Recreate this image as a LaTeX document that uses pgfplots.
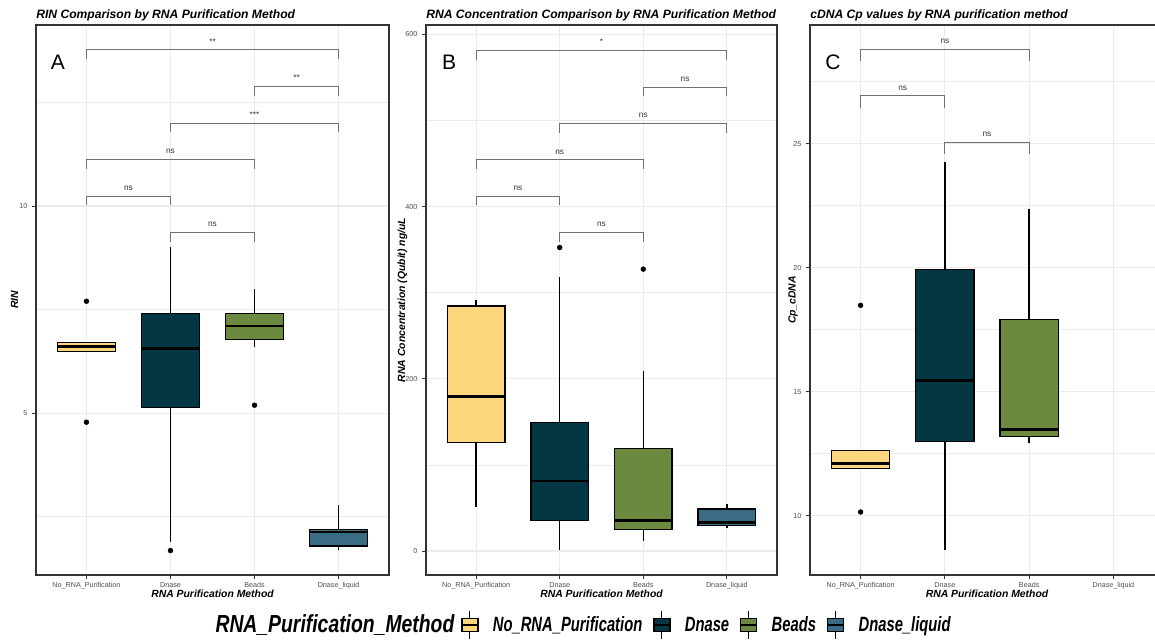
\documentclass[border=0pt]{standalone}
\usepackage{fontspec}
\setmainfont{Liberation Sans}
\usepackage{graphicx}
\usepackage{pgfplots}
\pgfplotsset{compat=1.18}
\usepgfplotslibrary{statistics}

\definecolor{cNo}{HTML}{FBD67D}
\definecolor{cDn}{HTML}{023743}
\definecolor{cBe}{HTML}{6B8A3F}
\definecolor{cDl}{HTML}{3A6D85}
\definecolor{grey20}{HTML}{333333}
\definecolor{grey30}{HTML}{4D4D4D}
\definecolor{grey92}{HTML}{EBEBEB}
\definecolor{sigcol}{HTML}{707070}

\newcommand\LegTitle[1]{\fontsize{18.5}{20}\selectfont\bfseries\itshape\scalebox{0.785}[1]{#1}\hspace*{-3pt}}
\newcommand\LegItem[1]{\fontsize{15.5}{18}\selectfont\bfseries\itshape\scalebox{0.715}[1]{#1}}

\tikzset{
  siglab/.style={anchor=base, yshift=4.3pt, inner sep=0pt,
    font=\fontsize{6.2}{7}\selectfont, text=grey20},
  letter/.style={anchor=center, inner sep=0pt, font=\fontsize{15.75}{18}\selectfont},
}

\pgfplotsset{
  panel/.style={
    scale only axis, height=412.5pt,
    xmin=-0.6, xmax=3.6,
    xtick={0,1,2,3},
    xticklabels={No\_RNA\_Purification,Dnase,Beads,Dnase\_liquid},
    xtick pos=left, ytick pos=left, tick align=outside,
    major tick length=3pt, minor tick length=0pt,
    tick style={draw=grey20, line width=0.6pt},
    axis line style={draw=grey20, line width=0.8pt},
    xmajorgrids, ymajorgrids, yminorgrids,
    major grid style={draw=grey92, line width=0.8pt},
    minor grid style={draw=grey92, line width=0.4pt},
    ticklabel style={font=\fontsize{5.4}{6}\selectfont, text=grey30},
    xticklabel style={yshift=1pt},
    /pgf/number format/assume math mode=true,
    xlabel={RNA Purification Method},
    xlabel style={at={(axis description cs:0.5,-0.0333)}, anchor=center,
      inner sep=0pt, font=\fontsize{7.8}{9}\selectfont\bfseries\itshape},
    ylabel style={anchor=center, inner sep=0pt,
      font=\fontsize{7.8}{9}\selectfont\bfseries\itshape},
    title style={at={(axis description cs:0,1)}, anchor=base west,
      yshift=-1pt, inner sep=0pt,
      font=\fontsize{9.1}{11}\selectfont\bfseries\itshape},
    clip=false,
    boxplot/draw direction=y,
    boxplot/box extend=0.69,
    boxplot/whisker extend=0,
    boxplot/every median/.style={line width=2.1pt},
    boxplot/every whisker/.style={line width=1pt},
  },
  bx/.style={draw=black, line width=1pt, fill=#1, solid, forget plot,
    mark=*, mark size=1.8pt, mark options={draw=black, fill=black, line width=0.4pt}},
  sig/.style={draw=sigcol, line width=0.7pt, mark=none, forget plot},
  boxkey/.style={legend image code/.code={
      \draw[black, line width=0.9pt] (6pt,-10.5pt) -- (6pt,10.5pt);
      \draw[black, line width=1.2pt, fill=#1] (0pt,-5pt) rectangle (12pt,5pt);
      \draw[black, line width=1.6pt] (0pt,0pt) -- (12pt,0pt);
  }},
}

\begin{document}
\begin{tikzpicture}

% ---------------- A: RIN ----------------
\begin{axis}[panel, width=264.75pt, at={(27pt,461.25pt)}, anchor=north west,
  ymin=1.09, ymax=14.37, ytick={5,10}, minor ytick={2.5,7.5,12.5},
  ylabel={RIN}, ylabel style={at={(axis description cs:-0.061,0.5)}},
  title={RIN Comparison by RNA Purification Method}]
\addplot[bx=cNo, boxplot prepared={draw position=0, lower whisker=6.48,
  lower quartile=6.48, median=6.60, upper quartile=6.70, upper whisker=6.70}]
  coordinates {(0,7.70) (0,4.78)};
\addplot[bx=cDn, boxplot prepared={draw position=1, lower whisker=1.89,
  lower quartile=5.14, median=6.55, upper quartile=7.41, upper whisker=9.00}]
  coordinates {(1,1.68)};
\addplot[bx=cBe, boxplot prepared={draw position=2, lower whisker=6.59,
  lower quartile=6.78, median=7.10, upper quartile=7.41, upper whisker=8.00}]
  coordinates {(2,5.19)};
\addplot[bx=cDl, boxplot prepared={draw position=3, lower whisker=1.69,
  lower quartile=1.79, median=2.13, upper quartile=2.19, upper whisker=2.78}]
  coordinates {};
% pairwise comparisons
\addplot[sig] coordinates {(0,13.55) (0,13.77) (3,13.77) (3,13.55)};
\addplot[sig] coordinates {(2,12.66) (2,12.88) (3,12.88) (3,12.66)};
\addplot[sig] coordinates {(1,11.78) (1,12.00) (3,12.00) (3,11.78)};
\addplot[sig] coordinates {(0,10.90) (0,11.12) (2,11.12) (2,10.90)};
\addplot[sig] coordinates {(0,10.02) (0,10.24) (1,10.24) (1,10.02)};
\addplot[sig] coordinates {(1,9.14) (1,9.36) (2,9.36) (2,9.14)};
\node[siglab] at (axis cs:1.5,13.77) {**};
\node[siglab] at (axis cs:2.5,12.88) {**};
\node[siglab] at (axis cs:2.0,12.00) {***};
\node[siglab] at (axis cs:1.0,11.12) {ns};
\node[siglab] at (axis cs:0.5,10.24) {ns};
\node[siglab] at (axis cs:1.5,9.36) {ns};
\node[letter] at (rel axis cs:0.062,0.933) {A};
\end{axis}

% ---------------- B: RNA concentration ----------------
\begin{axis}[panel, width=263.25pt, at={(319.5pt,461.25pt)}, anchor=north west,
  ymin=-27.9, ymax=610.8, ytick={0,200,400,600}, minor ytick={100,300,500},
  ylabel={RNA Concentration (Qubit) ng/uL},
  ylabel style={at={(axis description cs:-0.067,0.5)}},
  title={RNA Concentration Comparison by RNA Purification Method},
  legend columns=-1, legend cell align=left,
  legend style={draw=none, fill=none, inner sep=0pt, outer sep=0pt,
    at={(axis description cs:-0.6395,-0.0909)}, anchor=west,
    nodes={inner sep=0pt},
    /tikz/every odd column/.append style={column sep=10.5pt},
    /tikz/every even column/.append style={column sep=7.8pt}}]
\addplot[bx=cNo, boxplot prepared={draw position=0, lower whisker=51.4,
  lower quartile=126.1, median=179.5, upper quartile=284.3, upper whisker=291.3}]
  coordinates {};
\addplot[bx=cDn, boxplot prepared={draw position=1, lower whisker=1.0,
  lower quartile=35.2, median=81.2, upper quartile=149.4, upper whisker=318.3}]
  coordinates {(1,352.4)};
\addplot[bx=cBe, boxplot prepared={draw position=2, lower whisker=11.6,
  lower quartile=25.2, median=35.2, upper quartile=119.2, upper whisker=209.3}]
  coordinates {(2,327.3)};
\addplot[bx=cDl, boxplot prepared={draw position=3, lower whisker=26.3,
  lower quartile=29.4, median=33.3, upper quartile=48.7, upper whisker=54.5}]
  coordinates {};
% pairwise comparisons
\addplot[sig] coordinates {(0,570.6) (0,581.4) (3,581.4) (3,570.6)};
\addplot[sig] coordinates {(2,528.0) (2,538.8) (3,538.8) (3,528.0)};
\addplot[sig] coordinates {(1,485.9) (1,496.7) (3,496.7) (3,485.9)};
\addplot[sig] coordinates {(0,443.3) (0,454.1) (2,454.1) (2,443.3)};
\addplot[sig] coordinates {(0,401.2) (0,412.0) (1,412.0) (1,401.2)};
\addplot[sig] coordinates {(1,359.0) (1,369.8) (2,369.8) (2,359.0)};
\node[siglab] at (axis cs:1.5,581.4) {*};
\node[siglab] at (axis cs:2.5,538.8) {ns};
\node[siglab] at (axis cs:2.0,496.7) {ns};
\node[siglab] at (axis cs:1.0,454.1) {ns};
\node[siglab] at (axis cs:0.5,412.0) {ns};
\node[siglab] at (axis cs:1.5,369.8) {ns};
\node[letter] at (rel axis cs:0.066,0.933) {B};
% shared legend
\addlegendimage{empty legend}
\addlegendentry{\LegTitle{RNA\_Purification\_Method}}
\addlegendimage{boxkey=cNo}
\addlegendentry{\LegItem{No\_RNA\_Purification}}
\addlegendimage{boxkey=cDn}
\addlegendentry{\LegItem{Dnase}}
\addlegendimage{boxkey=cBe}
\addlegendentry{\LegItem{Beads}}
\addlegendimage{boxkey=cDl}
\addlegendentry{\LegItem{Dnase\_liquid}}
\end{axis}

% ---------------- C: cDNA Cp ----------------
\begin{axis}[panel, width=265.5pt, at={(607.5pt,461.25pt)}, anchor=north west,
  ymin=7.61, ymax=29.78, ytick={10,15,20,25}, minor ytick={12.5,17.5,22.5,27.5},
  ylabel={Cp\_cDNA}, ylabel style={at={(axis description cs:-0.048,0.5)}},
  title={cDNA Cp values by RNA purification method}]
\addplot[bx=cNo, boxplot prepared={draw position=0, lower whisker=11.91,
  lower quartile=11.91, median=12.12, upper quartile=12.64, upper whisker=12.64}]
  coordinates {(0,18.48) (0,10.15)};
\addplot[bx=cDn, boxplot prepared={draw position=1, lower whisker=8.62,
  lower quartile=12.99, median=15.45, upper quartile=19.92, upper whisker=24.27}]
  coordinates {};
\addplot[bx=cBe, boxplot prepared={draw position=2, lower whisker=12.95,
  lower quartile=13.19, median=13.46, upper quartile=17.91, upper whisker=22.38}]
  coordinates {};
% pairwise comparisons
\addplot[sig] coordinates {(0,28.34) (0,28.81) (2,28.81) (2,28.34)};
\addplot[sig] coordinates {(0,26.45) (0,26.92) (1,26.92) (1,26.45)};
\addplot[sig] coordinates {(1,24.57) (1,25.04) (2,25.04) (2,24.57)};
\node[siglab] at (axis cs:1.0,28.81) {ns};
\node[siglab] at (axis cs:0.5,26.92) {ns};
\node[siglab] at (axis cs:1.5,25.04) {ns};
\node[letter] at (rel axis cs:0.065,0.933) {C};
\end{axis}

\pgfresetboundingbox
\useasboundingbox (0pt,0pt) rectangle (866.25pt,480pt);
\end{tikzpicture}
\end{document}
